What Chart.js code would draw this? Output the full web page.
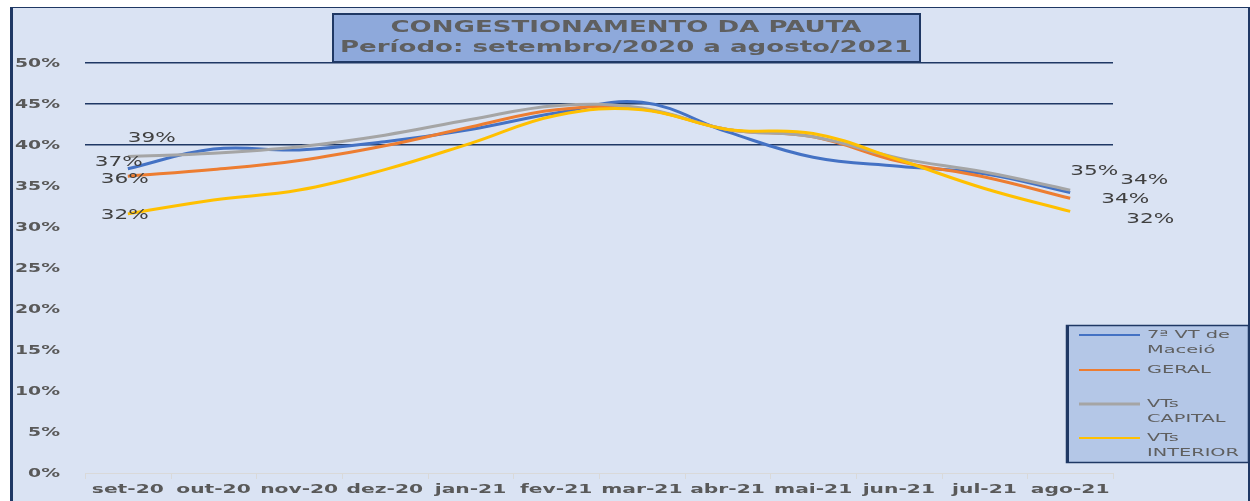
<!DOCTYPE html>
<html>
<head>
<meta charset="utf-8">
<script src="https://cdn.jsdelivr.net/npm/chart.js@4/dist/chart.umd.min.js"></script>
<style>
  html, body { margin: 0; padding: 0; background: #ffffff; }
  #wrap { width: 1250px; height: 501px; position: relative; }
</style>
</head>
<body>
<div id="wrap"><canvas id="c"></canvas></div>
<script>
// ---- data ----
const categories = ['set-20','out-20','nov-20','dez-20','jan-21','fev-21','mar-21','abr-21','mai-21','jun-21','jul-21','ago-21'];
const vtMaceio   = [37.1, 39.5, 39.4, 40.4, 41.9, 43.9, 45.2, 41.6, 38.5, 37.4, 36.5, 34.2];
const geral      = [36.2, 37.0, 38.1, 39.9, 42.2, 44.3, 44.4, 41.9, 41.0, 38.0, 36.1, 33.5];
const vtsCapital = [38.6, 39.0, 39.8, 41.2, 43.1, 44.8, 44.5, 41.9, 41.0, 38.4, 36.7, 34.5];
const vtsInterior= [31.6, 33.3, 34.5, 37.0, 40.2, 43.6, 44.3, 41.9, 41.4, 38.2, 34.7, 31.9];
const seriesNames = [['7ª VT de','Maceió'], ['GERAL'], ['VTs','CAPITAL'], ['VTs','INTERIOR']];
const titleLines = ['CONGESTIONAMENTO DA PAUTA', 'Período: setembro/2020 a agosto/2021'];
const yTicks = [0,5,10,15,20,25,30,35,40,45,50];

// ---- styles ----
const colors = ['#4472C4', '#ED7D31', '#A5A5A5', '#FFC000'];
const NAVY = '#1F3864';
// label offsets (first point, last point) per series, in px
const labelOffsets = [
  {s:[-9,-6],  e:[74,-12]},
  {s:[-3,3],   e:[55,1]},
  {s:[24,-18], e:[24,-19]},
  {s:[-3,1],   e:[80,8]}
];

function stretchText(ctx, text, x, y, align, sx) {
  ctx.save();
  ctx.translate(x, y);
  ctx.scale(sx, 1);
  ctx.textAlign = align;
  ctx.textBaseline = 'middle';
  ctx.fillText(text, 0, 0);
  ctx.restore();
}
function sxFor(ctx, font, ref, target) {
  ctx.save(); ctx.font = font;
  const w = ctx.measureText(ref).width;
  ctx.restore();
  return target / w;
}

const bgPlugin = {
  id: 'bg',
  beforeDraw(chart) {
    const ctx = chart.ctx;
    ctx.save();
    ctx.fillStyle = '#ffffff';
    ctx.fillRect(0, 0, chart.width, chart.height);
    ctx.fillStyle = '#DAE3F3';
    ctx.fillRect(10, 7, chart.width - 11, chart.height - 7);
    ctx.strokeStyle = NAVY;
    ctx.lineWidth = 1;
    ctx.beginPath(); ctx.moveTo(10, 7.5); ctx.lineTo(chart.width, 7.5); ctx.stroke();
    ctx.lineWidth = 3;
    ctx.beginPath(); ctx.moveTo(11.5, 7); ctx.lineTo(11.5, chart.height); ctx.stroke();
    ctx.lineWidth = 2;
    ctx.beginPath(); ctx.moveTo(1249, 7); ctx.lineTo(1249, chart.height); ctx.stroke();
    ctx.restore();
  }
};

const decoPlugin = {
  id: 'deco',
  afterDraw(chart) {
    const ctx = chart.ctx;
    const xs = chart.scales.x, ys = chart.scales.y;
    ctx.save();
    // x-axis tick marks at category boundaries
    ctx.strokeStyle = '#D9D9D9'; ctx.lineWidth = 1;
    const step = (xs.right - xs.left) / categories.length;
    for (let i = 0; i <= categories.length; i++) {
      const x = Math.round(xs.left + i * step) + 0.5;
      ctx.beginPath(); ctx.moveTo(x, ys.bottom); ctx.lineTo(x, ys.bottom + 6); ctx.stroke();
    }
    // y tick labels
    let f = 'bold 12px "DejaVu Sans"';
    ctx.font = f; ctx.fillStyle = '#595959';
    let sx = sxFor(ctx, f, '50%', 45);
    yTicks.forEach(v => stretchText(ctx, v + '%', 60, ys.getPixelForValue(v) + 1, 'right', sx));
    // x labels
    f = 'bold 12px "DejaVu Sans"';
    ctx.font = f;
    sx = sxFor(ctx, f, 'set-20', 72);
    categories.forEach((c, i) => stretchText(ctx, c, xs.getPixelForValue(i), 490, 'center', sx));
    // data labels
    f = '14px "DejaVu Sans"';
    ctx.font = f; ctx.fillStyle = '#404040';
    sx = sxFor(ctx, f, '39%', 48);
    chart.data.datasets.forEach((ds, di) => {
      const meta = chart.getDatasetMeta(di);
      const n = ds.data.length;
      const p0 = meta.data[0], p1 = meta.data[n - 1];
      const o = labelOffsets[di];
      stretchText(ctx, Math.round(ds.data[0]) + '%', p0.x + o.s[0], p0.y + o.s[1], 'center', sx);
      stretchText(ctx, Math.round(ds.data[n - 1]) + '%', p1.x + o.e[0], p1.y + o.e[1], 'center', sx);
    });
    // title box
    ctx.fillStyle = '#8EA9DB';
    ctx.fillRect(332, 13, 589, 50);
    ctx.strokeStyle = NAVY; ctx.lineWidth = 2;
    ctx.strokeRect(333, 14, 587, 48);
    f = 'bold 15px "DejaVu Sans"';
    ctx.font = f; ctx.fillStyle = '#5F5F5F';
    sx = sxFor(ctx, f, titleLines[1], 572);
    stretchText(ctx, titleLines[0], 626, 28, 'center', sx);
    stretchText(ctx, titleLines[1], 626, 48, 'center', sx);
    // legend box
    ctx.fillStyle = '#B4C7E7';
    ctx.fillRect(1066, 325, 182, 138);
    ctx.strokeStyle = NAVY; ctx.lineWidth = 1.5;
    ctx.strokeRect(1066.5, 325.5, 182, 137);
    ctx.lineWidth = 3;
    ctx.beginPath(); ctx.moveTo(1067.5, 325); ctx.lineTo(1067.5, 463); ctx.stroke();
    const legY = [335, 370, 404, 438];
    f = '10px "DejaVu Sans"';
    ctx.font = f;
    sx = sxFor(ctx, f, 'INTERIOR', 92);
    chart.data.datasets.forEach((ds, di) => {
      ctx.strokeStyle = ds.borderColor; ctx.lineWidth = di === 2 ? 3 : 2;
      ctx.beginPath(); ctx.moveTo(1079, legY[di]); ctx.lineTo(1140, legY[di]); ctx.stroke();
      ctx.fillStyle = '#5F5F5F';
      const lbl = Array.isArray(ds.label) ? ds.label : [ds.label];
      lbl.forEach((t, k) => stretchText(ctx, t, 1147, legY[di] + k * 15, 'left', sx));
    });
    ctx.restore();
  }
};

const seriesData = [vtMaceio, geral, vtsCapital, vtsInterior];
new Chart(document.getElementById('c'), {
  type: 'line',
  data: {
    labels: categories,
    datasets: seriesData.map((d, i) => ({
      label: seriesNames[i],
      data: d,
      borderColor: colors[i],
      backgroundColor: colors[i],
      borderWidth: 3,
      pointRadius: 0,
      tension: 0.4,
      fill: false,
      order: 3 - i
    }))
  },
  options: {
    responsive: true,
    maintainAspectRatio: false,
    animation: false,
    layout: { padding: { left: 0, right: 137, top: 63, bottom: 0 } },
    plugins: { legend: { display: false }, title: { display: false }, tooltip: { enabled: false } },
    scales: {
      y: {
        min: 0, max: 50,
        afterFit(s) { s.width = 85; },
        ticks: { display: false, stepSize: 5 },
        border: { display: false },
        grid: {
          drawTicks: false,
          lineWidth: 1.5,
          color: c => (c.tick && c.tick.value >= 40) ? NAVY : 'rgba(0,0,0,0)'
        }
      },
      x: {
        offset: true,
        afterFit(s) { s.height = 28; },
        ticks: { display: false },
        border: { display: true, color: '#D9D9D9' },
        grid: { display: false }
      }
    }
  },
  plugins: [bgPlugin, decoPlugin]
});
</script>
</body>
</html>
